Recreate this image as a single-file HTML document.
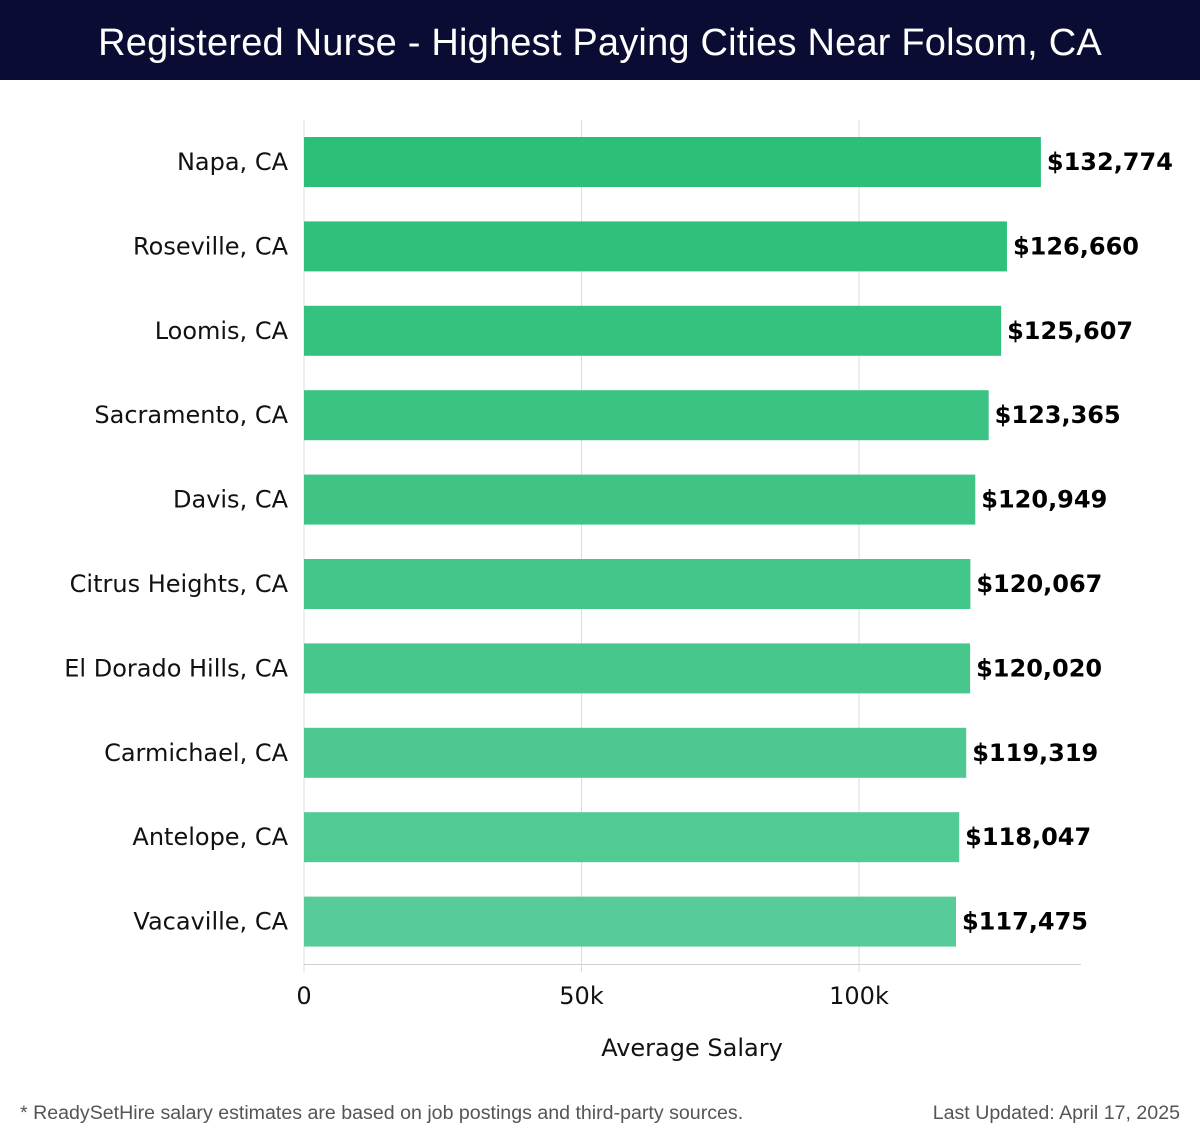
<!DOCTYPE html>
<html><head><meta charset="utf-8">
<style>
html,body{margin:0;padding:0;background:#fff;}
body{width:1200px;height:1140px;position:relative;overflow:hidden;font-family:"Liberation Sans","DejaVu Sans",sans-serif;}
#hdr{position:absolute;left:0;top:0;width:1200px;height:80px;background:#0b0c33;color:#fff;font-size:38px;text-align:center;line-height:86px;letter-spacing:0.2px;}
#foot-l{position:absolute;left:20px;top:1102px;font-size:19.6px;color:#555;}
#foot-r{position:absolute;right:20px;top:1102px;font-size:19.6px;color:#555;}
svg{position:absolute;left:0;top:0;font-family:"DejaVu Sans",sans-serif;}
</style></head><body>
<div id="hdr">Registered Nurse - Highest Paying Cities Near Folsom, CA</div>
<svg id="chart" width="1200" height="1140"></svg>
<div id="foot-l">* ReadySetHire salary estimates are based on job postings and third-party sources.</div>
<div id="foot-r">Last Updated: April 17, 2025</div>
<script>
const categories = ["Napa, CA","Roseville, CA","Loomis, CA","Sacramento, CA","Davis, CA","Citrus Heights, CA","El Dorado Hills, CA","Carmichael, CA","Antelope, CA","Vacaville, CA"];
const salaries = [132774,126660,125607,123365,120949,120067,120020,119319,118047,117475];
const tickValues = [0,50000,100000];
const tickLabels = ["0","50k","100k"];

const NS="http://www.w3.org/2000/svg";
const svgEl=document.getElementById('chart');
const x0=304, xPer=(859-304)/100000, xMax=140000;
const plotTop=120, step=84.4, barH=50, firstBar=137;
const xs=v=>x0+v*xPer;
const ys=i=>firstBar+i*step;
function mk(t,a){const e=document.createElementNS(NS,t);for(const k in a)e.setAttribute(k,a[k]);svgEl.appendChild(e);return e;}
tickValues.forEach((v,i)=>{
  const g=mk('line',{x1:xs(v),x2:xs(v),y1:plotTop,y2:972,stroke:'#dddddd','stroke-width':1});
  
  
  const t=mk('text',{x:xs(v),y:1004,'text-anchor':'middle','font-size':24,fill:'#111'});
  t.textContent=tickLabels[i];
  
  
});
const ax=mk('line',{x1:x0,x2:xs(xMax),y1:964.5,y2:964.5,stroke:'#d0d0d0','stroke-width':1});


const c0=[0x2b,0xbf,0x78], c1=[0x57,0xcb,0x98];
categories.forEach((c,i)=>{
  const f=i/(categories.length-1);
  const col='rgb('+c0.map((v,k)=>Math.round(v+(c1[k]-v)*f)).join(',')+')';
  const y=ys(i);
  const r=mk('rect',{x:x0,y:y,width:xs(salaries[i])-x0,height:barH,fill:col});
  
  
  const l=mk('text',{x:288,y:y+barH/2+8,'text-anchor':'end','font-size':24,fill:'#111'});
  l.textContent=c;
  
  
  const v=mk('text',{x:xs(salaries[i])+6,y:y+barH/2+8,'font-size':24,'font-weight':'bold',fill:'#000'});
  v.textContent='$'+salaries[i].toLocaleString('en-US');
  
  
});
const at=mk('text',{x:692,y:1056,'text-anchor':'middle','font-size':24,fill:'#111'});
at.textContent='Average Salary';


</script>
</body></html>
